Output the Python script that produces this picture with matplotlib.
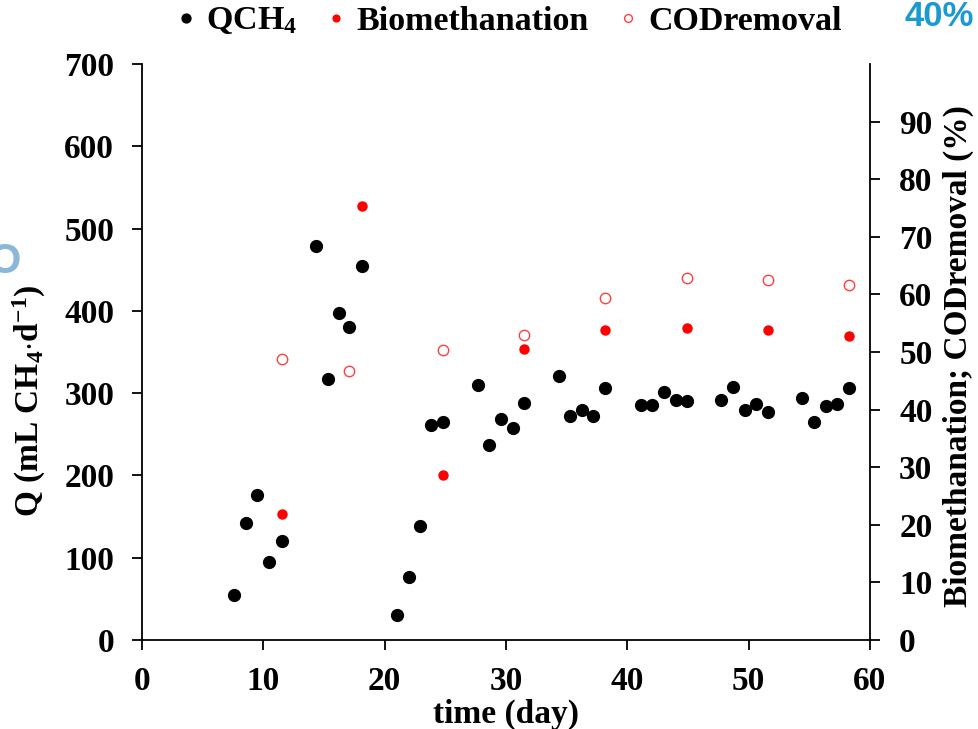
import numpy as np
import matplotlib
matplotlib.use("Agg")
import matplotlib.pyplot as plt

# QCH4 production (mL CH4/d) vs time (day)
q_day = [7.6, 8.6, 9.5, 10.5, 11.5, 14.3, 15.3, 16.2, 17.1, 18.1,
         21.0, 22.0, 22.9, 23.8, 24.8, 27.7, 28.6, 29.6, 30.6, 31.5,
         34.4, 35.3, 36.3, 37.2, 38.2, 41.1, 42.0, 43.0, 44.0, 44.9,
         47.7, 48.7, 49.7, 50.6, 51.6, 54.4, 55.4, 56.4, 57.3, 58.3]
q_val = [55, 142, 176, 95, 120, 479, 317, 397, 380, 455,
         30, 76, 138, 261, 265, 310, 237, 269, 258, 288,
         321, 272, 280, 272, 306, 286, 286, 301, 292, 290,
         292, 307, 280, 287, 277, 294, 265, 284, 287, 306]

# biomethanation (%)
bio_day = [11.5, 18.1, 24.8, 31.5, 38.2, 44.9, 51.6, 58.3]
bio_val = [21.9, 75.4, 28.6, 50.6, 53.9, 54.2, 53.8, 52.8]

# COD removal (%)
cod_day = [11.5, 17.1, 24.8, 31.5, 38.2, 44.9, 51.6, 58.3]
cod_val = [48.8, 46.7, 50.3, 53.0, 59.4, 62.8, 62.5, 61.6]

serif = "Liberation Serif"
fs = 24
plt.rcParams['font.family'] = serif
plt.rcParams['font.weight'] = 'bold'
plt.rcParams['mathtext.fontset'] = 'custom'
plt.rcParams['mathtext.rm'] = 'Liberation Serif:bold'
plt.rcParams['mathtext.it'] = 'Liberation Serif:bold'
plt.rcParams['mathtext.bf'] = 'Liberation Serif:bold'

fig = plt.figure(figsize=(9.79, 7.29), dpi=100)
ax = fig.add_axes([142/979, 1 - 640/729, (870 - 142)/979, (640 - 64)/729])
ax2 = ax.twinx()

h1, = ax.plot(q_day, q_val, 'o', color='black', markersize=8.5, linestyle='none',
              label='QCH$_4$')
h2, = ax2.plot(bio_day, bio_val, 'o', color='red', markersize=6.5, linestyle='none',
               label='Biomethanation')
h3, = ax2.plot(cod_day, cod_val, 'o', markerfacecolor='none', markeredgecolor='#ff4040',
               markeredgewidth=1.0, markersize=7.5, linestyle='none', label='CODremoval')

ax.set_xlim(0, 60)
ax.set_ylim(0, 700)
ax2.set_ylim(0, 100)
ax.set_xticks(np.arange(0, 61, 10))
ax.set_yticks(np.arange(0, 701, 100))
ax2.set_yticks(np.arange(0, 91, 10))

for a in (ax, ax2):
    a.spines['top'].set_visible(False)
    for s in a.spines.values():
        s.set_linewidth(1.3)
ax.spines['right'].set_visible(False)
ax2.spines['left'].set_visible(False)
ax2.spines['bottom'].set_visible(False)

ax.tick_params(direction='out', length=7, width=1.3, labelsize=fs, pad=13)
ax.tick_params(axis='x', pad=12)
ax2.tick_params(direction='out', length=7, width=1.3, labelsize=fs, pad=14)
for lab in ax.get_xticklabels() + ax.get_yticklabels() + ax2.get_yticklabels():
    lab.set_fontweight('bold')

ax.set_xlabel('time (day)', fontsize=fs, fontweight='bold', va='center')
ax.xaxis.set_label_coords(0.5, -(714 - 640) / 576)
ax.set_ylabel('Q (mL CH$_4$$\\cdot$d$^{-1}$)', fontsize=fs, fontweight='bold', va='center')
ax.yaxis.set_label_coords((29 - 142) / 728, (640 - 401) / 576)
ax2.set_ylabel('Biomethanation; CODremoval (%)', fontsize=fs, fontweight='bold',
               va='center', rotation=90)
ax2.yaxis.set_label_coords((958 - 142) / 728, (640 - 356) / 576)

fig.legend(handles=[h1, h2, h3], loc='center', bbox_to_anchor=(508/979, 1 - 21/729),
           ncol=3, frameon=False, markerscale=0.75, handletextpad=0.25, columnspacing=0.8,
           handlelength=0.7, prop={'family': serif, 'weight': 'bold', 'size': 24.5})

# stray bits of the surrounding page
fig.text(905/979, 1 - 17/729, '40%', color='#1a9ad0', fontsize=25, fontweight='bold',
         family='Liberation Sans', va='center', ha='left')
fig.text(-12/979, 1 - 262/729, 'O', color='#8bb8d8', fontsize=30, fontweight='bold',
         family='Liberation Sans', va='center', ha='left')

fig.savefig('out.png', dpi=100)
